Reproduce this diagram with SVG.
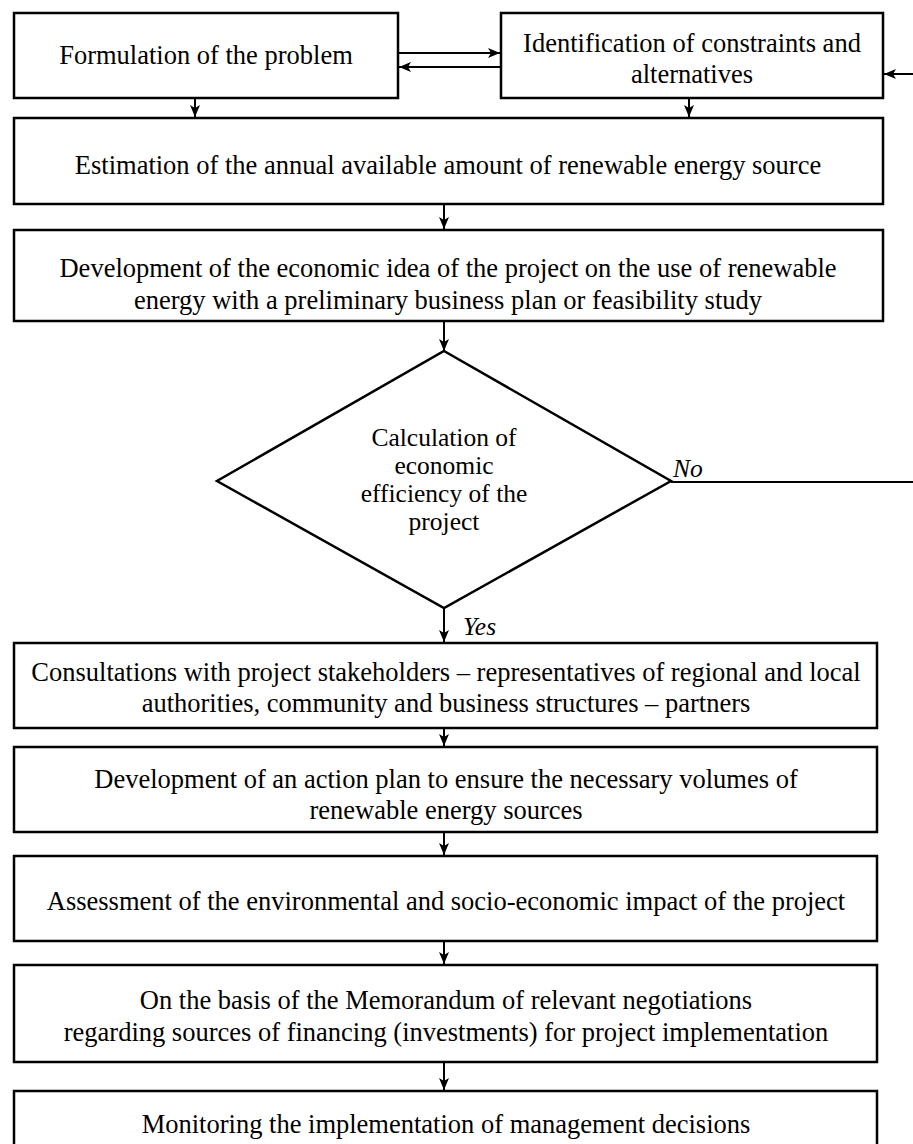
<svg xmlns="http://www.w3.org/2000/svg" width="913" height="1144" viewBox="0 0 913 1144">
<style>
.box{fill:#fff;stroke:#000;stroke-width:2.5}
.t{font-size:26.5px;fill:#000;text-anchor:middle}
.d{font-size:25.5px;fill:#000;text-anchor:middle}
.i{font-size:25.5px;font-style:italic;fill:#000}
.c{fill:none;stroke:#000;stroke-width:2}
</style>
<defs>
<marker id="ah" viewBox="0 0 12 10" refX="12" refY="5" markerWidth="12" markerHeight="10" markerUnits="userSpaceOnUse" orient="auto">
<path d="M0,0 L12,5 L0,10 L3,5 z" fill="#000"/>
</marker>
</defs>
<rect width="913" height="1144" fill="#fff"/>
<g font-family="Liberation Serif, Tinos, 'Times New Roman', 'DejaVu Serif', serif">
<g id="n1"><rect class="box" x="14" y="13" width="384" height="85"/><text class="t" x="206" y="64">Formulation of the problem</text></g>
<g id="n2"><rect class="box" x="501" y="13" width="382" height="85"/><text class="t" x="692" y="52">Identification of constraints and</text><text class="t" x="692" y="83">alternatives</text></g>
<g id="n3"><rect class="box" x="14" y="118" width="869" height="86"/><text class="t" x="448" y="174">Estimation of the annual available amount of renewable energy source</text></g>
<g id="n4"><rect class="box" x="14" y="230" width="869" height="91"/><text class="t" x="448" y="277">Development of the economic idea of the project on the use of renewable</text><text class="t" x="448" y="309">energy with a preliminary business plan or feasibility study</text></g>
<g id="n5"><polygon class="box" points="444,351 671,481 444,608 217,481"/><text class="d" x="444" y="446">Calculation of</text><text class="d" x="444" y="474">economic</text><text class="d" x="444" y="502">efficiency of the</text><text class="d" x="444" y="530">project</text></g>
<g id="n6"><rect class="box" x="14" y="643" width="863" height="85"/><text class="t" x="446" y="681">Consultations with project stakeholders – representatives of regional and local</text><text class="t" x="446" y="712">authorities, community and business structures – partners</text></g>
<g id="n7"><rect class="box" x="14" y="747" width="863" height="85"/><text class="t" x="446" y="788">Development of an action plan to ensure the necessary volumes of</text><text class="t" x="446" y="819">renewable energy sources</text></g>
<g id="n8"><rect class="box" x="14" y="856" width="863" height="85"/><text class="t" x="446" y="910">Assessment of the environmental and socio-economic impact of the project</text></g>
<g id="n9"><rect class="box" x="14" y="965" width="863" height="97"/><text class="t" x="446" y="1009">On the basis of the Memorandum of relevant negotiations</text><text class="t" x="446" y="1041">regarding sources of financing (investments) for project implementation</text></g>
<g id="n10"><rect class="box" x="14" y="1091" width="863" height="70"/><text class="t" x="446" y="1133">Monitoring the implementation of management decisions</text></g>
<g id="connectors">
<line class="c" x1="398" y1="53" x2="500" y2="53" marker-end="url(#ah)"/>
<line class="c" x1="501" y1="67" x2="399" y2="67" marker-end="url(#ah)"/>
<line class="c" x1="913" y1="74" x2="884" y2="74" marker-end="url(#ah)"/>
<line class="c" x1="195" y1="98" x2="195" y2="117" marker-end="url(#ah)"/>
<line class="c" x1="689" y1="98" x2="689" y2="117" marker-end="url(#ah)"/>
<line class="c" x1="444" y1="204" x2="444" y2="229" marker-end="url(#ah)"/>
<line class="c" x1="444" y1="321" x2="444" y2="351" marker-end="url(#ah)"/>
<line class="c" x1="671" y1="482" x2="913" y2="482"/>
<text class="i" x="673" y="477">No</text>
<line class="c" x1="444" y1="608" x2="444" y2="642" marker-end="url(#ah)"/>
<text class="i" x="463" y="635">Yes</text>
<line class="c" x1="444" y1="728" x2="444" y2="746" marker-end="url(#ah)"/>
<line class="c" x1="444" y1="832" x2="444" y2="855" marker-end="url(#ah)"/>
<line class="c" x1="444" y1="941" x2="444" y2="964" marker-end="url(#ah)"/>
<line class="c" x1="444" y1="1062" x2="444" y2="1090" marker-end="url(#ah)"/>
</g>
</g>
</svg>
